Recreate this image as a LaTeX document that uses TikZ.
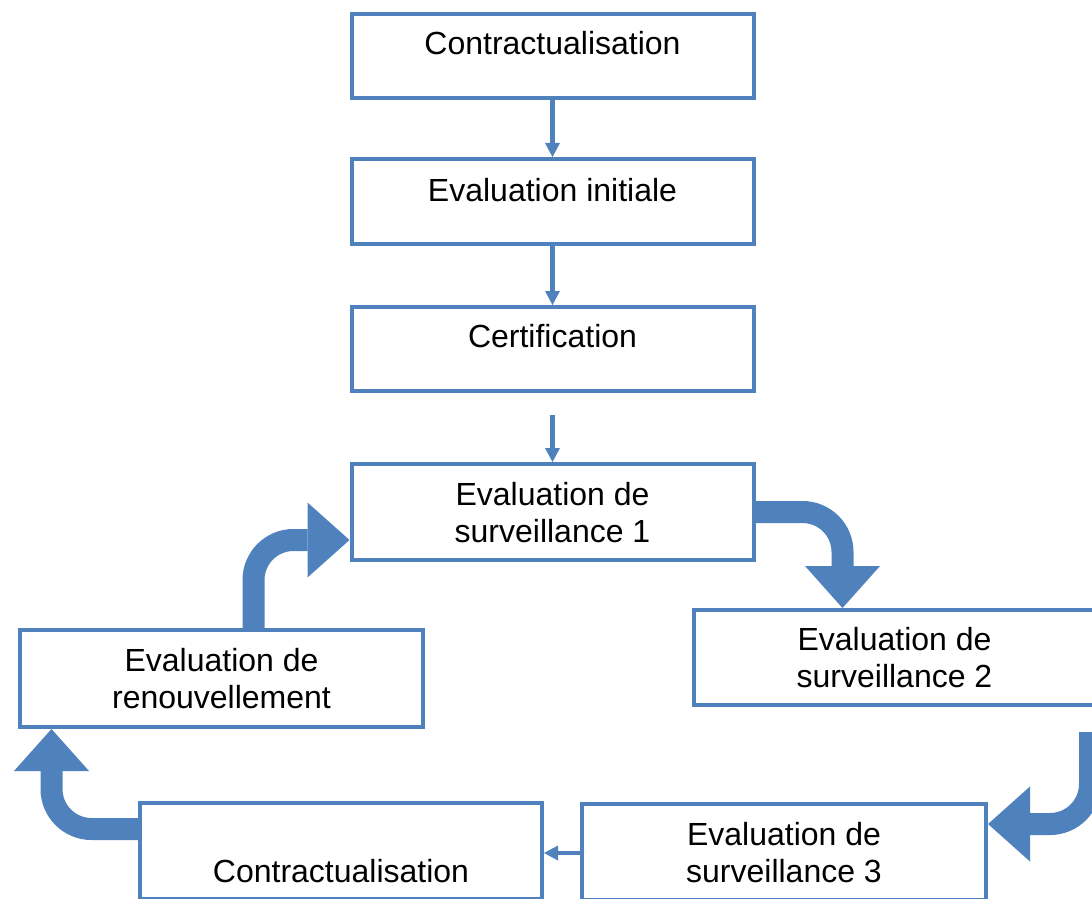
\documentclass[tikz,border=0pt]{standalone}
\usepackage{fontspec}
\setmainfont{Liberation Sans}
\usetikzlibrary{positioning,arrows.meta}
\definecolor{boxblue}{RGB}{79,129,189}
\tikzset{
  box/.style={draw=boxblue, line width=2pt, inner sep=0pt, minimum width=201pt},
  lbl/.style={inner sep=0pt, align=center, font=\fontsize{16}{18.5}\selectfont},
  thinarr/.style={draw=boxblue, line width=2.2pt,
    -{Triangle[length=7pt,width=7.5pt,line width=0pt]}},
  bigarr/.style={draw=boxblue, line width=11pt, rounded corners=20pt,
    -{Triangle[length=21pt,width=37.5pt,line width=0pt]}},
}

\begin{document}
\begin{tikzpicture}[x=0.5pt, y=-0.5pt]
  \useasboundingbox (0,0) rectangle (1092,899);
  \clip (0,0) rectangle (1092,899);
  % the boxes
  \node [box, minimum height=42pt] (contrat) at (552.5,56) {};
  \node [box, minimum height=42.5pt] (initiale) at (552.5,201.5) {};
  \node [box, minimum height=42pt] (certif) at (552.5,349) {};
  \node [box, minimum height=48pt] (surv1) at (552.5,512) {};
  \node [box, minimum height=47.5pt] (surv2) at (894.5,657.5) {};
  \node [box, minimum height=48pt, minimum width=202pt] (surv3) at (784,852) {};
  \node [box, minimum height=48pt] (contrat2) at (341,851) {};
  \node [box, minimum height=48.5pt, minimum width=201.5pt] (renouv) at (221.5,678.5) {};
  % the texts
  \node [lbl, below=9.5pt of contrat.north] (contratT) {Contractualisation};
  \node [lbl, below=10.5pt of initiale.north] (initialeT) {Evaluation initiale};
  \node [lbl, below=9.5pt of certif.north] (certifT) {Certification};
  \node [lbl, below=10pt of surv1.north] (surv1T) {Evaluation de\\surveillance 1};
  \node [lbl, below=9.5pt of surv2.north] (surv2T) {Evaluation de\\surveillance 2};
  \node [lbl, below=10pt of surv3.north] (surv3T) {Evaluation de\\surveillance 3};
  \node [lbl, below=29pt of contrat2.north] (contrat2T) {Contractualisation};
  \node [lbl, below=10pt of renouv.north] (renouvT) {Evaluation de\\renouvellement};
  % thin arrows
  \coordinate (certifout) at (552.5,415);
  \draw [thinarr] (contrat) -- (initiale); \draw [thinarr] (initiale) --
  (certif); \draw [thinarr] (certifout) -- (surv1.north); \draw [thinarr]
  ([yshift=-0.5pt]surv3.west) -- ([yshift=-0.5pt]surv3.west -| contrat2.east);
  % the big bent arrows
  \coordinate (surv2out) at (1090,732);
  \draw [bigarr] (surv1.east) -| ([xshift=-26pt]surv2.north);
  \draw [bigarr] (surv2out) |- ([yshift=14pt]surv3.east);
  \draw [bigarr] ([yshift=11pt]contrat2.west) -| ([xshift=-85pt]renouv.south);
  \draw [bigarr] ([xshift=16pt]renouv.north) |- ([yshift=-14pt]surv1.west);
\end{tikzpicture}
\end{document}
